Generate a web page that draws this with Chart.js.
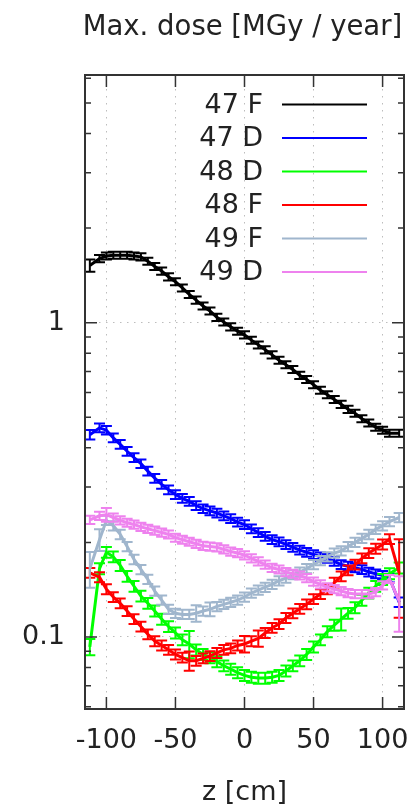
<!DOCTYPE html>
<html lang="en">
<head>
<meta charset="UTF-8">
<title>Max. dose</title>
<script src="https://cdn.jsdelivr.net/npm/chart.js@4"></script>
<style>
  html, body { margin: 0; padding: 0; background: #fff; }
  #wrap { width: 410px; height: 806px; }
</style>
</head>
<body>
<div id="wrap"><canvas id="doseChart" width="410" height="806"></canvas></div>
<script>
// z positions [cm]
const zPos = [-112, -105, -100, -95, -90, -85, -80, -75, -70, -65, -60, -55, -50, -45, -40, -35, -30, -25, -20, -15, -10, -5,
  0, 5, 10, 15, 20, 25, 30, 35, 40, 45, 50, 55, 60, 65, 70, 75, 80, 85, 90, 95, 100, 105, 112];

const seriesLabels = ['47 F', '47 D', '48 D', '48 F', '49 F', '49 D'];
const seriesColors = ['#000000', '#0000ff', '#00ff00', '#ff0000', '#a0b6cd', '#ee82ee'];

// max. dose [MGy / year]
const dose47F = [1.52, 1.60, 1.63, 1.64, 1.64, 1.64, 1.63, 1.62, 1.57, 1.51, 1.46, 1.40, 1.35, 1.29, 1.23, 1.18, 1.13, 1.09, 1.04, 1.005, 0.97, 0.94,
  0.915, 0.88, 0.85, 0.82, 0.79, 0.76, 0.735, 0.71, 0.68, 0.66, 0.635, 0.61, 0.59, 0.57, 0.55, 0.53, 0.515, 0.495, 0.48, 0.465, 0.455, 0.445, 0.445];
const dose47D = [0.44, 0.463, 0.455, 0.43, 0.41, 0.39, 0.372, 0.356, 0.337, 0.32, 0.306, 0.294, 0.284, 0.276, 0.27, 0.262, 0.256, 0.252, 0.248, 0.243, 0.238, 0.232,
  0.228, 0.221, 0.215, 0.209, 0.204, 0.201, 0.197, 0.193, 0.189, 0.186, 0.183, 0.18, 0.178, 0.174, 0.17, 0.168, 0.166, 0.164, 0.161, 0.159, 0.157, 0.154, 0.129];
const dose48D = [0.093, 0.165, 0.186, 0.18, 0.169, 0.156, 0.145, 0.135, 0.128, 0.121, 0.114, 0.108, 0.103, 0.098, 0.095, 0.091, 0.088, 0.086, 0.0835, 0.081, 0.079, 0.077,
  0.0755, 0.0745, 0.074, 0.074, 0.0745, 0.0755, 0.078, 0.081, 0.084, 0.088, 0.093, 0.098, 0.104, 0.109, 0.114, 0.119, 0.124, 0.131, 0.138, 0.145, 0.1525, 0.159, 0.166];
const dose48F = [0.16, 0.155, 0.142, 0.134, 0.128, 0.121, 0.114, 0.108, 0.102, 0.097, 0.094, 0.091, 0.088, 0.086, 0.084, 0.084, 0.0855, 0.087, 0.089, 0.091, 0.092, 0.094,
  0.095, 0.097, 0.099, 0.103, 0.107, 0.11, 0.115, 0.119, 0.123, 0.127, 0.132, 0.137, 0.142, 0.149, 0.156, 0.163, 0.17, 0.178, 0.185, 0.191, 0.197, 0.205, 0.16];
const dose49F = [0.165, 0.204, 0.235, 0.226, 0.212, 0.194, 0.1765, 0.164, 0.1525, 0.14, 0.131, 0.1225, 0.119, 0.118, 0.118, 0.119, 0.121, 0.1225, 0.125, 0.127, 0.129, 0.131,
  0.134, 0.138, 0.141, 0.144, 0.147, 0.151, 0.154, 0.158, 0.161, 0.165, 0.17, 0.175, 0.18, 0.185, 0.188, 0.194, 0.2, 0.206, 0.212, 0.22, 0.226, 0.233, 0.24];
const dose49D = [0.236, 0.243, 0.245, 0.24, 0.235, 0.231, 0.228, 0.224, 0.221, 0.218, 0.215, 0.212, 0.207, 0.204, 0.201, 0.198, 0.195, 0.194, 0.193, 0.19, 0.187, 0.185,
  0.182, 0.178, 0.174, 0.17, 0.166, 0.164, 0.161, 0.159, 0.157, 0.154, 0.15, 0.147, 0.144, 0.142, 0.14, 0.138, 0.137, 0.137, 0.137, 0.139, 0.146, 0.153, 0.13];

const allDoses = [dose47F, dose47D, dose48D, dose48F, dose49F, dose49D];

// relative errors: typical value per series, plus the larger ones (index -> rel. error)
const relErr = [0.026, 0.032, 0.04, 0.036, 0.034, 0.03];
const bigErr = [
  { 0: 0.045 },
  { 0: 0.035, 44: 0.035 },
  { 0: 0.06, 14: 0.1, 36: 0.08 },
  { 14: 0.07, 22: 0.06, 24: 0.06, 44: 0.28 },
  { 0: 0.13, 1: 0.08, 15: 0.06, 17: 0.05 },
  { 2: 0.05, 44: 0.2 }
];

const xTicks = [-100, -50, 0, 50, 100];
const yTicks = [0.1, 1];
const yMinorTicks = [0.06, 0.07, 0.08, 0.09, 0.2, 0.3, 0.4, 0.5, 0.6, 0.7, 0.8, 0.9, 2, 3, 4, 5, 6];

const FONT = 'DejaVu Sans';
const TEXT = '#222';

// gnuplot-like frame: error bars, inward ticks, box, key and top label
const gnuplotFrame = {
  id: 'gnuplotFrame',
  afterDatasetDraw(chart, args) {
    const ds = chart.data.datasets[args.index];
    const yScale = chart.scales.y;
    const ctx = chart.ctx;
    const area = chart.chartArea;
    ctx.save();
    ctx.beginPath();
    ctx.rect(area.left, area.top, area.right - area.left, area.bottom - area.top);
    ctx.clip();
    ctx.strokeStyle = ds.borderColor;
    ctx.lineWidth = 2;
    ctx.beginPath();
    args.meta.data.forEach((pt, i) => {
      const v = ds.data[i].y;
      const e = v * ds.err[i];
      const top = yScale.getPixelForValue(v + e);
      const bot = yScale.getPixelForValue(v - e);
      ctx.moveTo(pt.x, top); ctx.lineTo(pt.x, bot);
      ctx.moveTo(pt.x - 5.5, top); ctx.lineTo(pt.x + 5.5, top);
      ctx.moveTo(pt.x - 5.5, bot); ctx.lineTo(pt.x + 5.5, bot);
    });
    ctx.stroke();
    ctx.restore();
  },
  afterDraw(chart) {
    const ctx = chart.ctx;
    const a = chart.chartArea;
    const xs = chart.scales.x, ys = chart.scales.y;
    ctx.save();
    ctx.strokeStyle = '#333';
    ctx.lineWidth = 1.5;
    ctx.beginPath();
    xTicks.forEach(v => {
      const px = xs.getPixelForValue(v);
      ctx.moveTo(px, a.bottom); ctx.lineTo(px, a.bottom - 12);
      ctx.moveTo(px, a.top); ctx.lineTo(px, a.top + 12);
    });
    yTicks.forEach(v => {
      const py = ys.getPixelForValue(v);
      ctx.moveTo(a.left, py); ctx.lineTo(a.left + 12, py);
      ctx.moveTo(a.right, py); ctx.lineTo(a.right - 12, py);
    });
    yMinorTicks.forEach(v => {
      const py = ys.getPixelForValue(v);
      ctx.moveTo(a.left, py); ctx.lineTo(a.left + 6, py);
      ctx.moveTo(a.right, py); ctx.lineTo(a.right - 6, py);
    });
    ctx.stroke();
    ctx.lineWidth = 2;
    ctx.strokeRect(a.left, a.top, a.right - a.left, a.bottom - a.top);

    // key
    ctx.font = '27px "' + FONT + '"';
    ctx.fillStyle = TEXT;
    ctx.textAlign = 'right';
    ctx.textBaseline = 'middle';
    seriesLabels.forEach((lab, i) => {
      const yy = a.top + 29.5 + i * 33.5;
      ctx.fillText(lab, a.right - 141, yy + 1);
      ctx.strokeStyle = seriesColors[i];
      ctx.lineWidth = 2;
      ctx.beginPath();
      ctx.moveTo(a.right - 122, yy);
      ctx.lineTo(a.right - 37, yy);
      ctx.stroke();
    });

    // y label on top
    ctx.font = '27.5px "' + FONT + '"';
    ctx.textAlign = 'center';
    ctx.textBaseline = 'alphabetic';
    ctx.fillText('Max. dose [MGy / year]', (a.left + a.right) / 2 - 2, 35);
    ctx.restore();
  }
};

const datasets = seriesLabels.map((lab, i) => ({
  label: lab,
  data: zPos.map((z, j) => ({ x: z, y: allDoses[i][j] })),
  err: zPos.map((z, j) => (bigErr[i][j] !== undefined ? bigErr[i][j] : relErr[i])),
  borderColor: seriesColors[i],
  backgroundColor: seriesColors[i],
  borderWidth: 3,
  pointRadius: 0,
  tension: 0,
  order: seriesLabels.length - i
}));

new Chart(document.getElementById('doseChart'), {
  type: 'line',
  data: { datasets: datasets },
  options: {
    responsive: false,
    animation: false,
    layout: { padding: { top: 75, right: 6, left: 0, bottom: 0 } },
    plugins: {
      legend: { display: false },
      tooltip: { enabled: false },
      title: { display: false }
    },
    scales: {
      x: {
        type: 'linear',
        min: -115.5,
        max: 115.5,
        afterBuildTicks: s => { s.ticks = xTicks.map(v => ({ value: v })); },
        afterFit: s => { s.height = 97; s.paddingLeft = 0; s.paddingRight = 0; },
        ticks: {
          font: { family: FONT, size: 27 },
          color: TEXT,
          padding: 16,
          autoSkip: false,
          maxRotation: 0,
          callback: v => String(v)
        },
        grid: { color: '#bdbdbd', lineWidth: 1, drawTicks: false },
        border: { display: false, dash: [1.5, 5.5] },
        title: {
          display: true,
          text: 'z [cm]',
          color: TEXT,
          font: { family: FONT, size: 27, lineHeight: 1 },
          padding: { top: 0, bottom: 0 }
        }
      },
      y: {
        type: 'logarithmic',
        min: 0.059,
        max: 6.14,
        afterBuildTicks: s => { s.ticks = yTicks.map(v => ({ value: v })); },
        afterFit: s => { s.width = 85; s.paddingTop = 0; s.paddingBottom = 0; },
        ticks: {
          font: { family: FONT, size: 27 },
          color: TEXT,
          padding: 20,
          callback: v => String(v)
        },
        grid: { color: '#bdbdbd', lineWidth: 1, drawTicks: false },
        border: { display: false, dash: [1.5, 5.5] }
      }
    }
  },
  plugins: [gnuplotFrame]
});
</script>
</body>
</html>
